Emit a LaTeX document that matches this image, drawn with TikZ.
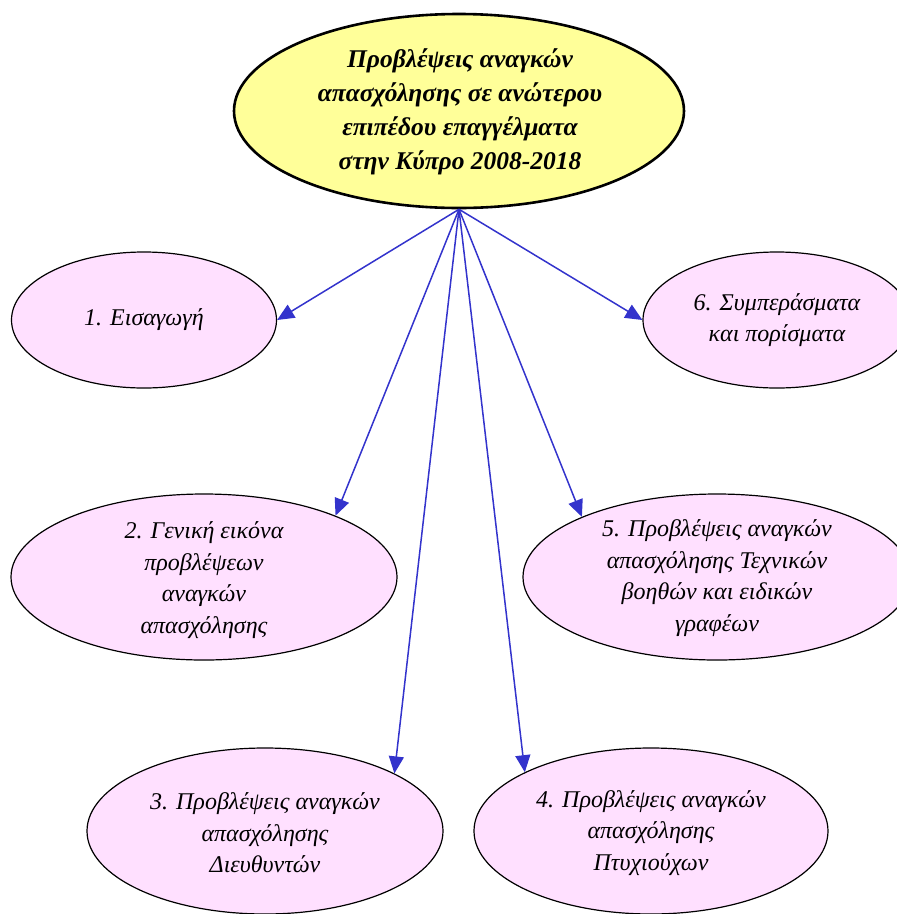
\documentclass[tikz,border=0pt]{standalone}
\usepackage{fontspec}
\setmainfont{Liberation Serif}
\usetikzlibrary{shapes.geometric,arrows.meta}
\definecolor{pinkfill}{RGB}{255,224,255}
\definecolor{yellowfill}{RGB}{255,255,153}
\definecolor{arrowblue}{RGB}{51,51,204}
\tikzset{
  topell/.style={ellipse, draw=black, line width=2.6pt, fill=yellowfill, inner sep=0pt},
  pinkell/.style={ellipse, draw=black, line width=1.2pt, fill=pinkfill, inner sep=0pt},
  toptxt/.style={align=center, font=\fontsize{25.5}{34}\selectfont\bfseries\itshape, inner sep=0pt},
  ntxt/.style={align=center, font=\fontsize{24}{31.5}\selectfont\itshape, inner sep=0pt},
  link/.style={draw=arrowblue, line width=1.5pt, -{Triangle[length=17pt,width=15pt]}, shorten >=0pt}
}
\begin{document}
\begin{tikzpicture}[x=1pt,y=-1pt]
\useasboundingbox (0,0) rectangle (897,914);
\begin{scope}
\clip (0,0) rectangle (897,914);
\node[topell, minimum width=450pt, minimum height=194pt] (top) at (459,111) {};
\node[toptxt] (toplbl) at (460,112) {Προβλέψεις αναγκών\\απασχόλησης σε ανώτερου\\επιπέδου επαγγέλματα\\στην Κύπρο 2008-2018};

\node[pinkell, minimum width=265pt, minimum height=136pt] (n1) at (144,320) {};
\node[ntxt] (l1) at (n1) {1. Εισαγωγή};

\node[pinkell, minimum width=268pt, minimum height=136pt] (n6) at (777,320) {};
\node[ntxt] (l6) at (n6) {6. Συμπεράσματα\\και πορίσματα};

\node[pinkell, minimum width=386pt, minimum height=166pt] (n2) at (204,577) {};
\node[ntxt] (l2) at (204,580) {2. Γενική εικόνα\\προβλέψεων\\αναγκών\\απασχόλησης};

\node[pinkell, minimum width=388pt, minimum height=166pt] (n5) at (717,577) {};
\node[ntxt] (l5) at (717,578) {5. Προβλέψεις αναγκών\\απασχόλησης Τεχνικών\\βοηθών και ειδικών\\γραφέων};

\node[pinkell, minimum width=356pt, minimum height=166pt] (n3) at (265,831) {};
\node[ntxt] (l3) at (265,833) {3. Προβλέψεις αναγκών\\απασχόλησης\\Διευθυντών};

\node[pinkell, minimum width=354pt, minimum height=166pt] (n4) at (651,831) {};
\node[ntxt] (l4) at (651,833) {4. Προβλέψεις αναγκών\\απασχόλησης\\Πτυχιούχων};

\draw[link] (top.south) -- (n1.east);
\draw[link] (top.south) -- (n6.west);
\draw[link] (top.south) -- (n2.25);
\draw[link] (top.south) -- (n5.156);
\draw[link] (top.south) -- (n3.24);
\draw[link] (top.south) -- (n4.155);
\end{scope}
\end{tikzpicture}
\end{document}
